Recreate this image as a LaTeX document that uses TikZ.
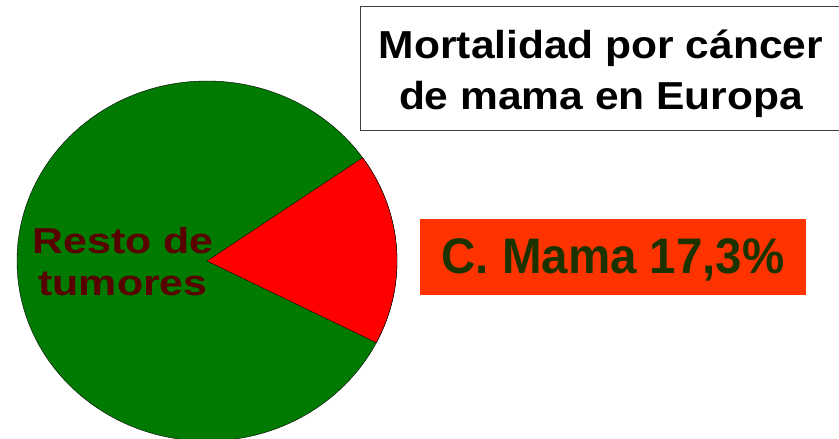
\documentclass[tikz,border=0pt]{standalone}
\usepackage{fontspec}
\setmainfont{Liberation Sans}
\newfontfamily\titlefont[FakeStretch=1.09]{Liberation Sans}
\newfontfamily\restofont[FakeStretch=1.19]{Liberation Sans}
\newfontfamily\mamafont[FakeStretch=0.95]{Liberation Sans}
\definecolor{piegreen}{HTML}{007A00}
\definecolor{piered}{HTML}{FF0000}
\definecolor{boxred}{HTML}{FF3300}
\definecolor{labelred}{HTML}{580000}
\definecolor{labelgreen}{HTML}{1C3300}
\tikzset{
    titlebox/.style={draw=black!75, line width=1pt, fill=white, minimum width=482pt, minimum height=124pt},
    valuebox/.style={fill=boxred, minimum width=386pt, minimum height=76pt},
}
\begin{document}
\begin{tikzpicture}[x=1pt, y=1pt]
        \useasboundingbox (0,0) rectangle (839,439);
        \clip (0,0) rectangle (839,439);
        \coordinate (c) at (207,178);
        \fill[piegreen, draw=black, thin] (c) ellipse [x radius=190, y radius=180];
        \fill[piered, draw=black, thin] (c) -- ++(35:190 and 180)
            arc[start angle=35, end angle=-27, x radius=190, y radius=180] -- cycle;
        \node[align=center, text=labelred, font=\restofont\fontsize{36}{42}\selectfont\bfseries] (resto) at (123,177) {Resto de\\tumores};
        % titulo
        \node[titlebox] (titulo) at (601,370) {};
        \node[align=center, font=\titlefont\fontsize{39}{51}\selectfont\bfseries, yshift=-5pt] (titulotexto) at (titulo) {Mortalidad por cáncer\\de mama en Europa};
        % porcentaje
        \node[valuebox] (mama) at (613,182) {};
        \node[text=labelgreen, font=\mamafont\fontsize{50}{55}\selectfont\bfseries, yshift=-3pt] (mamatexto) at (mama) {C. Mama 17,3\%};
    \end{tikzpicture}
\end{document}
